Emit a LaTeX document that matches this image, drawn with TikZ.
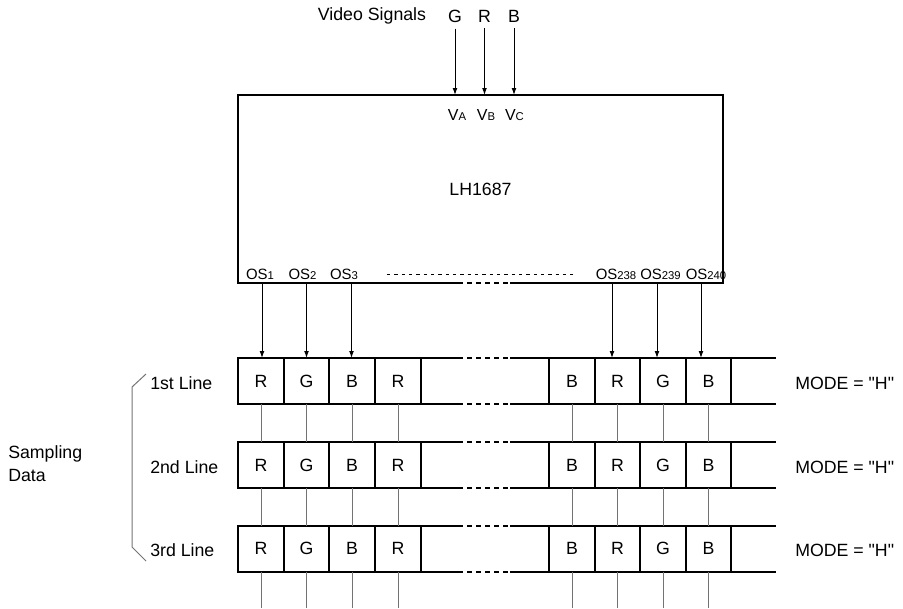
\documentclass[tikz,border=0pt]{standalone}
\usepackage{fontspec}
\newfontfamily\lsans{Liberation Sans}
\usetikzlibrary{arrows.meta}
\newcommand\subs[1]{{\fontsize{8.5}{10}\selectfont #1}}
\begin{document}
\begin{tikzpicture}[x=0.75pt,y=-0.75pt,
  every node/.style={font=\lsans\fontsize{13.3}{16}\selectfont, inner sep=0pt},
  cell/.style={draw, line width=1.5pt, outer sep=0pt, minimum width=34.3pt, minimum height=34.5pt},
  thickline/.style={line width=1.5pt},
  dashseg/.style={line width=1.5pt, dash pattern=on 3.75pt off 3pt},
  osdash/.style={line width=0.6pt, dash pattern=on 2.6pt off 2.9pt},
  link/.style={line width=0.75pt, draw=black!55},
  arr/.style={line width=0.75pt, -{Latex[length=5.2pt,width=3.6pt]}},
  vpin/.style={font=\lsans\fontsize{12}{14}\selectfont},
  ospin/.style={font=\lsans\fontsize{11.2}{14}\selectfont},
]
\useasboundingbox (0,0) rectangle (903,608);

% chip
\node (chip) at (480.5,189) [minimum width=363.75pt, minimum height=141pt, outer sep=0pt] {LH1687};
\coordinate (gl) at (458,0);
\coordinate (gr) at (510,0);
\coordinate (endx) at (776,0);
\coordinate (bot) at (0,608);
\draw[thickline] (chip.south west -| gl) -- (chip.south west) -- (chip.north west) -- (chip.north east) -- (chip.south east) -- (chip.south east -| gr);
\draw[dashseg] (chip.south west -| gl) -- (chip.south west -| gr);

% video signals
\node (vs) at (372,16) {Video Signals};
\node (sg) at (455,16) {G};
\node (sr) at (484.5,16) {R};
\node (sb) at (514,16) {B};
\foreach \s in {sg,sr,sb}
  \draw[arr] ([yshift=-4.5pt]\s.south) -- (\s.south |- chip.north);

\node[vpin] (va) at (457,115) {V\subs{A}};
\node[vpin] (vb) at (486,115) {V\subs{B}};
\node[vpin] (vc) at (514.5,115) {V\subs{C}};

% output pins
\node[ospin] (os1) at (260,274) {OS\subs{1}};
\node[ospin] (os2) at (302.5,274) {OS\subs{2}};
\node[ospin] (os3) at (344,274) {OS\subs{3}};
\node[ospin] (os238) at (616,274) {OS\subs{238}};
\node[ospin] (os239) at (660.5,274) {OS\subs{239}};
\node[ospin] (os240) at (706,274) {OS\subs{240}};
\draw[osdash] (387,274) -- (573,274);

% cells
\foreach \r/\y in {1/381,2/465,3/548.5} {
  \foreach \c/\x/\t in {1/261/R,2/306.5/G,3/352/B,4/398/R,5/572/B,6/617.5/R,7/663/G,8/708.5/B}
    \node[cell] (r\r-\c) at (\x,\y) {\t};
  \foreach \a/\b/\e in {north east/north west/north east,south east/south west/south east} {
    \draw[thickline] (r\r-4.\a) -- (r\r-4.\a -| gl);
    \draw[dashseg] (r\r-4.\a -| gl) -- (r\r-4.\a -| gr);
    \draw[thickline] (r\r-4.\a -| gr) -- (r\r-5.\b);
    \draw[thickline] (r\r-8.\e) -- (r\r-8.\e -| endx);
  }
}

% arrows from outputs to first line
\foreach \n/\x in {1/262,2/306.5,3/351.5,4/612,5/657,6/701} {
  \coordinate (t\n) at (\x,358);
  \draw[arr] (t\n |- chip.south) -- (t\n);
}

% links between lines
\foreach \c in {1,...,8} {
  \draw[link] (r1-\c.south) -- (r2-\c.north);
  \draw[link] (r2-\c.south) -- (r3-\c.north);
  \draw[link] (r3-\c.south) -- (r3-\c.south |- bot);
}

% labels
\node[anchor=west] (l1) at (150,383) {1st Line};
\node[anchor=west] (l2) at (150,467) {2nd Line};
\node[anchor=west] (l3) at (150,550) {3rd Line};
\node[anchor=west] (m1) at (795,383) {MODE = "H"};
\node[anchor=west] (m2) at (795,467) {MODE = "H"};
\node[anchor=west] (m3) at (795,550) {MODE = "H"};
\node[anchor=west, align=left, font=\lsans\fontsize{13.3}{17.3}\selectfont] (sd) at (8,464) {Sampling\\Data};

% bracket
\draw[link] (146,374) -- (132,387) -- (132,547) -- (146,561);
\end{tikzpicture}
\end{document}
